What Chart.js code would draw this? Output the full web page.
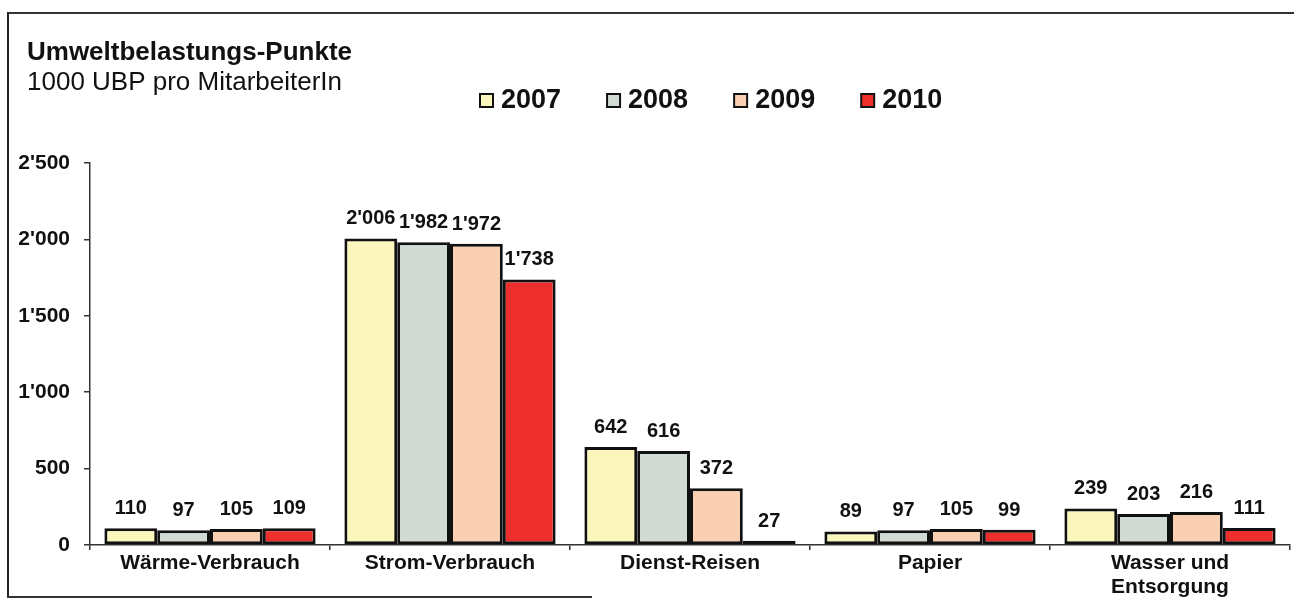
<!DOCTYPE html>
<html lang="de">
<head>
<meta charset="utf-8">
<title>Umweltbelastungs-Punkte</title>
<script src="https://cdn.jsdelivr.net/npm/chart.js@4.4.1/dist/chart.umd.min.js"></script>
<style>
    html, body { margin: 0; padding: 0; background: #fff; }
    #wrap { position: relative; width: 1294px; height: 599px; overflow: hidden; }
    #frame { position: absolute; left: 7px; top: 12px; width: 1300px; height: 584px; border-left: 2px solid #222; border-top: 2px solid #333; }
    #frameBottom { position: absolute; left: 7px; top: 596px; width: 585px; height: 0; border-top: 2px solid #333; }
    canvas { position: absolute; left: 0; top: 0; }
</style>
</head>
<body>
<div id="wrap">
    <div id="frame"></div>
    <div id="frameBottom"></div>
    <canvas id="chart" width="1294" height="599"></canvas>
</div>
<script>
// --- data ---
const categories = ['Wärme-Verbrauch', 'Strom-Verbrauch', 'Dienst-Reisen', 'Papier', ['Wasser und', 'Entsorgung']];
const years = ['2007', '2008', '2009', '2010'];
const values2007 = [110, 2006, 642, 89, 239];
const values2008 = [97, 1982, 616, 97, 203];
const values2009 = [105, 1972, 372, 105, 216];
const values2010 = [109, 1738, 27, 99, 111];
const yTicks = [0, 500, 1000, 1500, 2000, 2500];

const series = [values2007, values2008, values2009, values2010];
const barColors = ['#faf6bc', '#d1dbd4', '#f9d0b1', '#ec2f2c'];
const FONT = '"Liberation Sans", Arial, sans-serif';

// 1'000 style thousands separator
function swiss(v) {
    return String(v).replace(/\B(?=(\d{3})+(?!\d))/g, "'");
}

// title, subtitle and the little legend row
const headerPlugin = {
    id: 'header',
    afterDraw(chart) {
        const ctx = chart.ctx;
        ctx.save();
        ctx.fillStyle = '#111';
        ctx.textAlign = 'left';
        ctx.textBaseline = 'alphabetic';
        ctx.font = 'bold 26px ' + FONT;
        ctx.fillText('Umweltbelastungs-Punkte', 27, 60);
        ctx.font = '26px ' + FONT;
        ctx.fillText('1000 UBP pro MitarbeiterIn', 27, 90);

        ctx.font = 'bold 27px ' + FONT;
        let x = 480;
        chart.data.datasets.forEach(ds => {
            ctx.fillStyle = ds.backgroundColor;
            ctx.fillRect(x, 94, 13, 13);
            ctx.lineWidth = 2;
            ctx.strokeStyle = '#111';
            ctx.strokeRect(x, 94, 13, 13);
            ctx.fillStyle = '#111';
            ctx.fillText(ds.label, x + 21, 108);
            x += 21 + ctx.measureText(ds.label).width + 46;
        });
        ctx.restore();
    }
};

// numbers above the bars
const valueLabels = {
    id: 'valueLabels',
    afterDatasetsDraw(chart) {
        const ctx = chart.ctx;
        ctx.save();
        ctx.font = 'bold 20px ' + FONT;
        ctx.fillStyle = '#111';
        ctx.textAlign = 'center';
        ctx.textBaseline = 'alphabetic';
        chart.data.datasets.forEach((ds, i) => {
            chart.getDatasetMeta(i).data.forEach((bar, j) => {
                ctx.fillText(swiss(ds.data[j]), bar.x, bar.y - 14);
            });
        });
        ctx.restore();
    }
};

new Chart(document.getElementById('chart'), {
    type: 'bar',
    data: {
        labels: categories,
        datasets: years.map((y, i) => ({
            label: y,
            data: series[i],
            backgroundColor: barColors[i],
            borderColor: '#111',
            borderWidth: 3,
            borderSkipped: false,
            categoryPercentage: 0.88,
            barPercentage: 1
        }))
    },
    options: {
        responsive: false,
        animation: false,
        layout: { padding: { top: 163, left: 10, right: 4, bottom: 0 } },
        plugins: {
            legend: { display: false },
            title: { display: false },
            tooltip: { enabled: false }
        },
        scales: {
            x: {
                grid: { drawOnChartArea: false, drawTicks: true, tickLength: 5, color: '#333', lineWidth: 1.5 },
                border: { display: true, color: '#333', width: 1.5 },
                ticks: { color: '#111', padding: 1, maxRotation: 0, autoSkip: false, font: { family: FONT, size: 21, weight: 'bold', lineHeight: 1.15 } },
                afterFit(s) { s.height = 54; }
            },
            y: {
                min: 0,
                max: 2500,
                afterBuildTicks(s) { s.ticks = yTicks.map(v => ({ value: v })); },
                grid: { drawOnChartArea: false, drawTicks: true, tickLength: 6, color: '#333', lineWidth: 1.5 },
                border: { display: true, color: '#333', width: 1.5 },
                ticks: { color: '#111', padding: 14, font: { family: FONT, size: 21, weight: 'bold' }, callback: v => swiss(v) },
                afterFit(s) { s.width = 80; }
            }
        }
    },
    plugins: [headerPlugin, valueLabels]
});
</script>
</body>
</html>
